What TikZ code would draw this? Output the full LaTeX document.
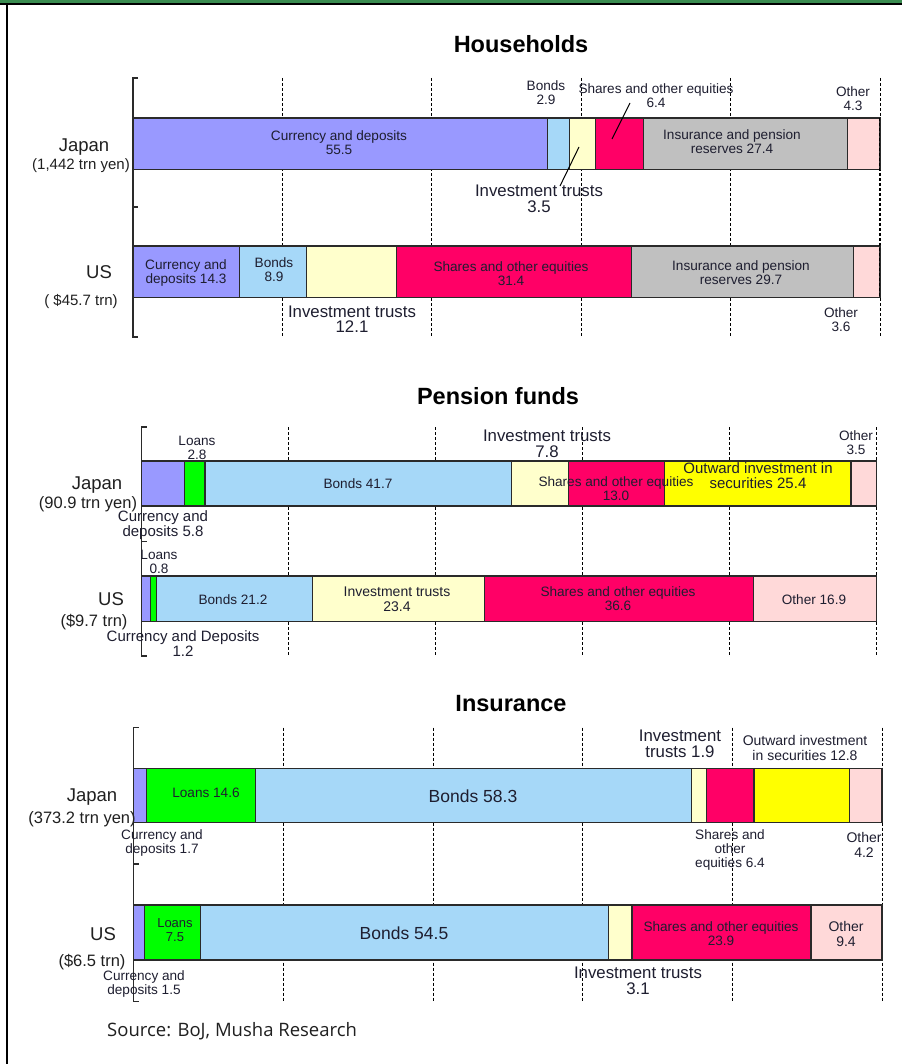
\documentclass[tikz,border=0pt]{standalone}
\usepackage{fontspec}
\setmainfont{Liberation Sans}
\newfontfamily\srcfont{Open Sans}
\definecolor{cur}{HTML}{9999FF}
\definecolor{bond}{HTML}{A6D8F8}
\definecolor{inv}{HTML}{FFFFCC}
\definecolor{sha}{HTML}{FF0066}
\definecolor{ins}{HTML}{C0C0C0}
\definecolor{oth}{HTML}{FFD9D9}
\definecolor{loan}{HTML}{00FF00}
\definecolor{outw}{HTML}{FFFF00}
\definecolor{barline}{HTML}{2A2A2A}
\definecolor{txt}{HTML}{1E1E30}
\definecolor{txtb}{HTML}{202020}
\definecolor{frgreen}{HTML}{3A8C50}
\newcommand\fsz[2]{\fontsize{#1}{#2}\selectfont}
\newcommand\seg[4]{\node[segbox, fill=#4, minimum width={(#3-#2)*\sc*1pt}, minimum height={(\yb-\yt)*1pt}] (#1) at ({\xo+#2*\sc},{\yt}) {};}
\tikzset{
  segbox/.style={draw=barline, line width=1.2pt, inner sep=0pt, outer sep=0pt, anchor=north west},
  grid/.style={draw=black, line width=1pt, dash pattern=on 3pt off 2pt},
  axisl/.style={draw=barline, line width=1.5pt},
  leader/.style={draw=black, line width=1pt},
  lbl/.style={inner sep=0pt, outer sep=0pt, align=center, text=txt},
  ttl/.style={lbl, text=black, font=\bfseries\fsz{23.5}{26}},
  cty/.style={lbl, text=txtb, font=\fsz{18.5}{20}},
  sub15/.style={lbl, text=txtb, font=\fsz{15}{16}},
  sub16/.style={lbl, text=txtb, font=\fsz{16.5}{18}},
  s13/.style={lbl, font=\fsz{13}{13.5}},
  s136/.style={lbl, font=\fsz{13.6}{13.8}},
  s14/.style={lbl, font=\fsz{14}{14.5}},
  s15/.style={lbl, font=\fsz{15}{15}},
  s168/.style={lbl, font=\fsz{16.8}{15.5}},
  s175/.style={lbl, font=\fsz{17.5}{18}},
}
\begin{document}
\begin{tikzpicture}[x=1pt,y=-1pt]
\useasboundingbox (0,0) rectangle (902,1064);
\fill[white] (0,0) rectangle (902,1064);
% frame
\fill[frgreen] (0,0) rectangle (902,3.5);
\fill[black] (0,3.5) rectangle (902,5);
\fill[black] (6,3.5) rectangle (8.3,1064);

%================ Households ================
\node[ttl] (hhT) at (521,44) {Households};
\foreach \gx in {282.4,431.8,581.2,730.6,880}{\draw[grid] (\gx,78) -- (\gx,337);}
\draw[axisl] (138,78) -- (133,78) -- (133,337) -- (138,337);
\draw[axisl] (133,207) -- (138,207);
\def\xo{133}\def\sc{7.47}
\def\yt{118}\def\yb{169.5}
\seg{hjCur}{0}{55.5}{cur}
\seg{hjBond}{55.5}{58.4}{bond}
\seg{hjInv}{58.4}{61.9}{inv}
\seg{hjSha}{61.9}{68.3}{sha}
\seg{hjIns}{68.3}{95.7}{ins}
\seg{hjOth}{95.7}{100}{oth}
\def\yt{246}\def\yb{297.5}
\seg{huCur}{0}{14.3}{cur}
\seg{huBond}{14.3}{23.2}{bond}
\seg{huInv}{23.2}{35.3}{inv}
\seg{huSha}{35.3}{66.7}{sha}
\seg{huIns}{66.7}{96.4}{ins}
\seg{huOth}{96.4}{100}{oth}
\draw[grid] (879,118) -- (879,297.5);
\node[cty] (hhJ) at (84,147) {Japan};
\node[sub15] (hhJs) at (81,166) {(1,442 trn yen)};
\node[cty] (hhU) at (99,272) {US};
\node[sub15] (hhUs) at (81,302) {( \$45.7 trn)};
\node[s136] (hjCurL) at (339,143) {Currency and deposits\\55.5};
\node[s136] (hjBondL) at (546,93) {Bonds\\2.9};
\node[s136] (hjShaL) at (656,96) {Shares and other equities\\6.4};
\node[s136] (hjInsL) at (732,142) {Insurance and pension\\reserves 27.4};
\node[s136] (hjOthL) at (853,99) {Other\\4.3};
\node[s168] (hjInvL) at (539,199) {Investment trusts\\3.5};
\coordinate (hjInvP) at (579,147); \coordinate (hjInvQ) at (560,186);
\draw[leader] (hjInvP) -- (hjInvQ);
\coordinate (hjShaP) at (612,139); \coordinate (hjShaQ) at (630,103);
\draw[leader] (hjShaP) -- (hjShaQ);
\node[s136] (huCurL) at (186,273) {Currency and\\deposits 14.3};
\node[s136] (huBondL) at (274,270) {Bonds\\8.9};
\node[s136] (huShaL) at (511,274) {Shares and other equities\\31.4};
\node[s136] (huInsL) at (741,273) {Insurance and pension\\reserves 29.7};
\node[s168] (huInvL) at (352,319) {Investment trusts\\12.1};
\node[s136] (huOthL) at (841,320) {Other\\3.6};

%================ Pension funds ================
\node[ttl] (pfT) at (498,396) {Pension funds};
\foreach \gx in {288.7,435.7,582.7,729.7,876.7}{\draw[grid] (\gx,427) -- (\gx,656);}
\draw[axisl] (146.7,427) -- (141.7,427) -- (141.7,656) -- (146.7,656);
\draw[axisl] (141.7,541.7) -- (146.7,541.7);
\def\xo{141.7}\def\sc{7.35}
\def\yt{461}\def\yb{506}
\seg{pjCur}{0}{5.8}{cur}
\seg{pjLoan}{5.8}{8.6}{loan}
\seg{pjBond}{8.6}{50.3}{bond}
\seg{pjInv}{50.3}{58.1}{inv}
\seg{pjSha}{58.1}{71.1}{sha}
\seg{pjOut}{71.1}{96.5}{outw}
\seg{pjOth}{96.5}{100}{oth}
\def\yt{576}\def\yb{621.5}
\seg{puCur}{0}{1.2}{cur}
\seg{puLoan}{1.2}{2.0}{loan}
\seg{puBond}{2.0}{23.2}{bond}
\seg{puInv}{23.2}{46.6}{inv}
\seg{puSha}{46.6}{83.2}{sha}
\seg{puOth}{83.2}{100}{oth}
\node[cty] (pfJ) at (97,485) {Japan};
\node[sub16] (pfJs) at (88,504) {(90.9 trn yen)};
\node[cty] (pfU) at (111,599) {US};
\node[sub16] (pfUs) at (94,622) {(\$9.7 trn)};
\node[s136] (pjLoanL) at (197,448) {Loans\\2.8};
\node[s15] (pjCurL) at (163,525) {Currency and\\deposits 5.8};
\node[s136] (pjBondL) at (358,484) {Bonds 41.7};
\node[s168] (pjInvL) at (547,444) {Investment trusts\\7.8};
\node[s136] (pjShaL) at (616,489) {Shares and other equities\\13.0};
\node[s15] (pjOutL) at (758,476) {Outward investment in\\securities 25.4};
\node[s136] (pjOthL) at (856,443) {Other\\3.5};
\node[s136] (puLoanL) at (159,562) {Loans\\0.8};
\node[s15] (puCurL) at (183,644) {Currency and Deposits\\1.2};
\node[s136] (puBondL) at (233,600) {Bonds 21.2};
\node[s14] (puInvL) at (397,599) {Investment trusts\\23.4};
\node[s136] (puShaL) at (618,599) {Shares and other equities\\36.6};
\node[s136] (puOthL) at (814,600) {Other 16.9};

%================ Insurance ================
\node[ttl] (inT) at (511,704) {Insurance};
\foreach \gx in {283.3,433,582.8,732.5,882}{\draw[grid] (\gx,727.7) -- (\gx,1001);}
\draw[axisl] (138.5,727.7) -- (133.5,727.7) -- (133.5,1001.7) -- (138.5,1001.7);
\draw[axisl] (133.5,864) -- (138.5,864);
\def\xo{133.5}\def\sc{7.485}
\def\yt{768.3}\def\yb{822.7}
\seg{ijCur}{0}{1.7}{cur}
\seg{ijLoan}{1.7}{16.3}{loan}
\seg{ijBond}{16.3}{74.6}{bond}
\seg{ijInv}{74.6}{76.5}{inv}
\seg{ijSha}{76.5}{82.9}{sha}
\seg{ijOut}{82.9}{95.7}{outw}
\seg{ijOth}{95.7}{100}{oth}
\def\yt{905}\def\yb{960}
\seg{iuCur}{0}{1.5}{cur}
\seg{iuLoan}{1.5}{9.0}{loan}
\seg{iuBond}{9.0}{63.5}{bond}
\seg{iuInv}{63.5}{66.6}{inv}
\seg{iuSha}{66.6}{90.5}{sha}
\seg{iuOth}{90.5}{100}{oth}
\node[cty] (inJ) at (92,797) {Japan};
\node[sub16] (inJs) at (82,819) {(373.2 trn yen)};
\node[cty] (inU) at (103,934) {US};
\node[sub16] (inUs) at (92,962) {(\$6.5 trn)};
\node[s136] (ijLoanL) at (206,793) {Loans 14.6};
\node[s175] (ijBondL) at (473,796) {Bonds 58.3};
\node[s136] (ijCurL) at (162,843) {Currency and\\deposits 1.7};
\node[s168] (ijInvL) at (680,744) {Investment\\trusts 1.9};
\node[s14] (ijOutL) at (805,748) {Outward investment\\in securities 12.8};
\node[s136] (ijShaL) at (730,850) {Shares and\\other\\equities 6.4};
\node[s14] (ijOthL) at (864,845) {Other\\4.2};
\node[s13] (iuLoanL) at (175,930) {Loans\\7.5};
\node[s175] (iuBondL) at (404,933) {Bonds 54.5};
\node[s136] (iuCurL) at (144,984) {Currency and\\deposits 1.5};
\node[s168] (iuInvL) at (638,981) {Investment trusts\\3.1};
\node[s136] (iuShaL) at (721,934) {Shares and other equities\\23.9};
\node[s14] (iuOthL) at (846,934) {Other\\9.4};

\node[anchor=base west, inner sep=0pt, text=txtb, font=\srcfont\fsz{18.5}{22}] (src) at (107,1036) {Source: BoJ, Musha Research};
\end{tikzpicture}
\end{document}
